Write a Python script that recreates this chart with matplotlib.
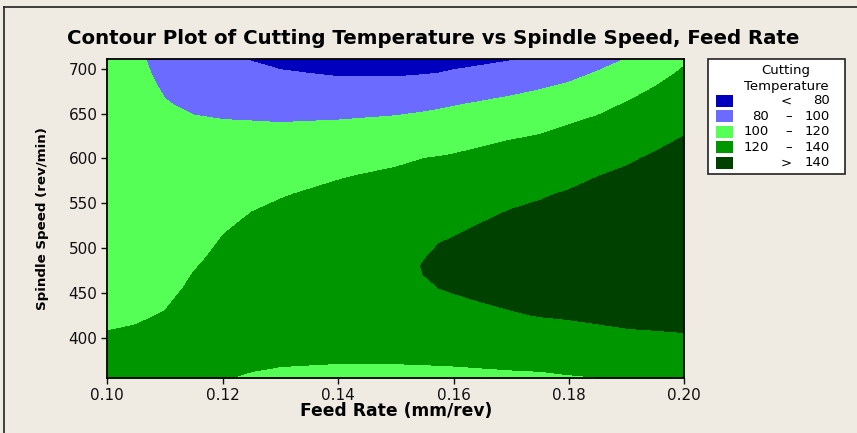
import numpy as np
import matplotlib
matplotlib.use("Agg")
import matplotlib.pyplot as plt
from matplotlib.patches import Rectangle
from matplotlib.lines import Line2D
from matplotlib import font_manager

# ---- data ----
feed_rate = [0.100, 0.105, 0.110, 0.115, 0.120, 0.125, 0.130, 0.140, 0.150, 0.155,
             0.1575, 0.160, 0.170, 0.175, 0.180, 0.185, 0.190, 0.195, 0.200]
spindle_speed = [354.5, 362, 370, 380, 395, 410, 425, 440, 455, 470, 480, 490,
                 505, 520, 540, 560, 580, 600, 620, 640, 660, 680, 695, 710.6]
cutting_temp = [
    [125.0,124.0,123.0,121.8,120.3,119.2,117.8,116.8,116.5,116.7,116.8,117.0,117.8,118.4,119.0,119.6,120.8,122.5,124.5],
    [124.3,123.5,122.7,122.0,121.0,120.0,119.1,118.3,118.1,118.3,118.5,118.6,119.5,119.9,120.9,122.0,123.4,125.0,126.8],
    [123.5,123.0,122.4,122.3,121.7,121.1,120.4,119.8,119.8,120.1,120.2,120.4,121.7,122.6,123.6,124.8,126.1,127.7,129.3],
    [122.5,122.3,122.0,122.6,122.7,122.4,122.2,121.9,122.2,122.1,122.6,123.0,124.9,125.9,127.1,128.3,129.6,131.0,132.4],
    [121.0,121.3,121.5,123.0,124.0,124.5,124.7,125.1,125.9,125.3,126.1,126.9,129.6,131.0,132.2,133.5,134.8,136.0,137.1],
    [119.8,120.3,120.9,123.5,124.8,126.5,127.3,128.3,129.6,128.4,129.6,130.7,134.3,136.0,137.4,138.8,139.9,140.6,141.2],
    [119.1,119.3,120.3,122.7,125.3,127.4,129.3,131.4,133.3,131.5,133.1,134.6,139.0,140.5,141.3,142.2,143.0,143.7,144.5],
    [118.4,118.4,119.4,121.9,125.2,128.2,130.1,133.2,135.0,134.6,136.6,138.5,141.7,142.9,143.9,145.0,146.0,146.9,147.7],
    [117.7,117.5,118.2,121.1,124.7,127.9,131.0,134.1,135.8,137.7,140.0,140.9,143.9,145.2,146.5,147.8,149.0,150.0,151.0],
    [117.1,116.5,116.9,120.3,123.7,127.1,130.2,134.9,136.6,140.2,141.1,142.4,146.0,147.6,149.2,150.6,152.0,153.1,154.2],
    [116.6,115.9,116.0,119.4,122.9,126.5,129.8,134.3,136.9,140.5,141.8,143.4,147.5,149.2,150.9,152.5,154.0,155.2,156.4],
    [116.2,115.3,115.2,118.3,122.1,125.4,129.2,133.7,136.4,139.8,141.1,142.6,148.1,150.8,152.7,154.4,156.0,157.3,158.6],
    [115.5,114.4,113.9,116.6,120.9,123.8,127.5,132.8,135.6,137.1,140.0,141.0,145.8,148.3,150.8,153.8,157.0,160.4,161.8],
    [114.8,113.5,112.6,114.9,119.4,122.2,125.3,130.6,134.8,134.4,137.0,138.9,143.6,145.8,148.2,151.1,154.1,158.5,162.9],
    [113.9,112.2,110.9,112.6,116.3,120.0,122.4,126.9,131.3,130.8,132.9,134.6,140.7,142.5,144.7,147.3,150.3,154.3,158.6],
    [113.0,111.0,109.2,110.3,113.2,116.1,119.1,123.2,127.0,127.1,128.8,130.2,136.0,138.7,141.2,143.6,146.4,150.2,154.3],
    [112.2,109.9,107.5,108.1,110.1,112.2,114.3,119.1,122.7,123.6,124.8,125.9,130.7,133.3,136.4,139.9,142.6,146.0,149.9],
    [111.4,108.7,105.8,105.8,107.0,108.3,109.6,113.1,117.4,120.0,120.7,121.6,125.5,127.8,130.7,134.2,138.1,141.9,145.6],
    [110.6,107.6,104.1,103.5,103.9,104.4,104.8,107.1,110.3,112.5,113.7,115.0,120.2,122.3,125.1,128.5,132.4,136.9,141.3],
    [109.8,106.5,102.4,101.3,100.8,100.5,100.0,101.1,103.2,105.0,106.0,107.2,112.4,115.3,119.2,122.8,126.7,131.3,136.4],
    [109.0,105.4,100.7,98.2,96.1,94.7,93.3,93.1,94.8,96.6,97.9,99.2,104.5,107.1,110.7,115.7,121.1,125.7,131.2],
    [108.2,104.2,98.6,94.2,90.9,88.6,86.5,84.5,85.1,86.5,87.7,89.1,95.3,98.6,102.2,107.4,113.2,120.1,126.0],
    [107.6,103.4,96.8,91.1,87.0,84.1,81.4,78.5,78.2,79.3,80.1,81.5,87.2,90.5,95.6,101.1,106.9,115.6,122.1],
    [107.0,102.5,95.0,88.0,83.0,79.3,76.0,73.0,72.0,74.0,74.7,75.5,79.2,82.0,88.6,94.5,100.4,111.0,118.0],
]
levels = [80, 100, 120, 140]
band_colors = ["#0000BE", "#6B6BFF", "#55FF55", "#009600", "#004100"]
x_ticks = [0.10, 0.12, 0.14, 0.16, 0.18, 0.20]
x_tick_labels = ["0.10", "0.12", "0.14", "0.16", "0.18", "0.20"]
y_ticks = [400, 450, 500, 550, 600, 650, 700]

# ---- figure ----
W, H = 857, 433
BG = "#EFEBE2"
fig = plt.figure(figsize=(W/100, H/100), dpi=100, facecolor=BG)
ax = fig.add_axes([107.3/W, 1-378.3/H, 577/W, 319/H])
ax.contourf(np.array(feed_rate), np.array(spindle_speed), np.array(cutting_temp),
            levels=[0] + levels + [300], colors=band_colors)
ax.set_xlim(0.10, 0.20)
ax.set_ylim(354.5, 710.6)
ax.set_xticks(x_ticks)
ax.set_xticklabels(x_tick_labels)
ax.set_yticks(y_ticks)
ax.tick_params(direction="out", length=4, width=1, labelsize=11, pad=3, colors="#111111")
for sp in ax.spines.values():
    sp.set_linewidth(1.3)
    sp.set_color("black")

fig.text(433/W, 1-38/H, "Contour Plot of Cutting Temperature vs Spindle Speed, Feed Rate",
         ha="center", va="center", fontsize=14.2, fontweight="bold")
fig.text(395.8/W, 1-411.5/H, "Feed Rate (mm/rev)", ha="center", va="center",
         fontsize=12.3, fontweight="bold")

names = {f.name for f in font_manager.fontManager.ttflist}
if "Liberation Sans Narrow" in names:
    yl_family, yl_size = "Liberation Sans Narrow", 12.5
else:
    yl_family, yl_size = "DejaVu Sans", 9.6
fig.text(43/W, 1-218.6/H, "Spindle Speed (rev/min)", ha="center", va="center",
         rotation=90, fontsize=yl_size, fontweight="bold", family=yl_family)

# overlay in pixel coordinates for frame and legend
lax = fig.add_axes([0, 0, 1, 1], zorder=5)
lax.set_xlim(0, W); lax.set_ylim(H, 0); lax.axis("off")
lax.add_line(Line2D([4.5, 4.5], [7, H], color="#222222", lw=1.2))
lax.add_line(Line2D([4.5, W], [7, 7], color="#222222", lw=1.2))
lax.add_patch(Rectangle((708.3, 59.3), 137, 115, facecolor="white", edgecolor="#222222", lw=1.2))
lax.text(786, 70.5, "Cutting", ha="center", va="center", fontsize=9.5)
lax.text(786, 86.5, "Temperature", ha="center", va="center", fontsize=9.5)
entries = ([("", "<", f"{levels[0]}")]
           + [(f"{levels[i]}", "\u2013", f"{levels[i+1]}") for i in range(len(levels)-1)]
           + [("", ">", f"{levels[-1]}")])
for i, (c, (lo, op, hi)) in enumerate(zip(band_colors, entries)):
    yc = 100.7 + i*15.5
    lax.add_patch(Rectangle((715.7, yc-6.2), 17.6, 12.4, facecolor=c, edgecolor="none"))
    if lo:
        lax.text(768.5, yc, lo, ha="right", va="center", fontsize=9.5)
    lax.text(789 if op == "\u2013" else 786, yc, op, ha="center", va="center", fontsize=9.5)
    lax.text(829.5, yc, hi, ha="right", va="center", fontsize=9.5)

fig.savefig("out.png", dpi=100, facecolor=BG)
